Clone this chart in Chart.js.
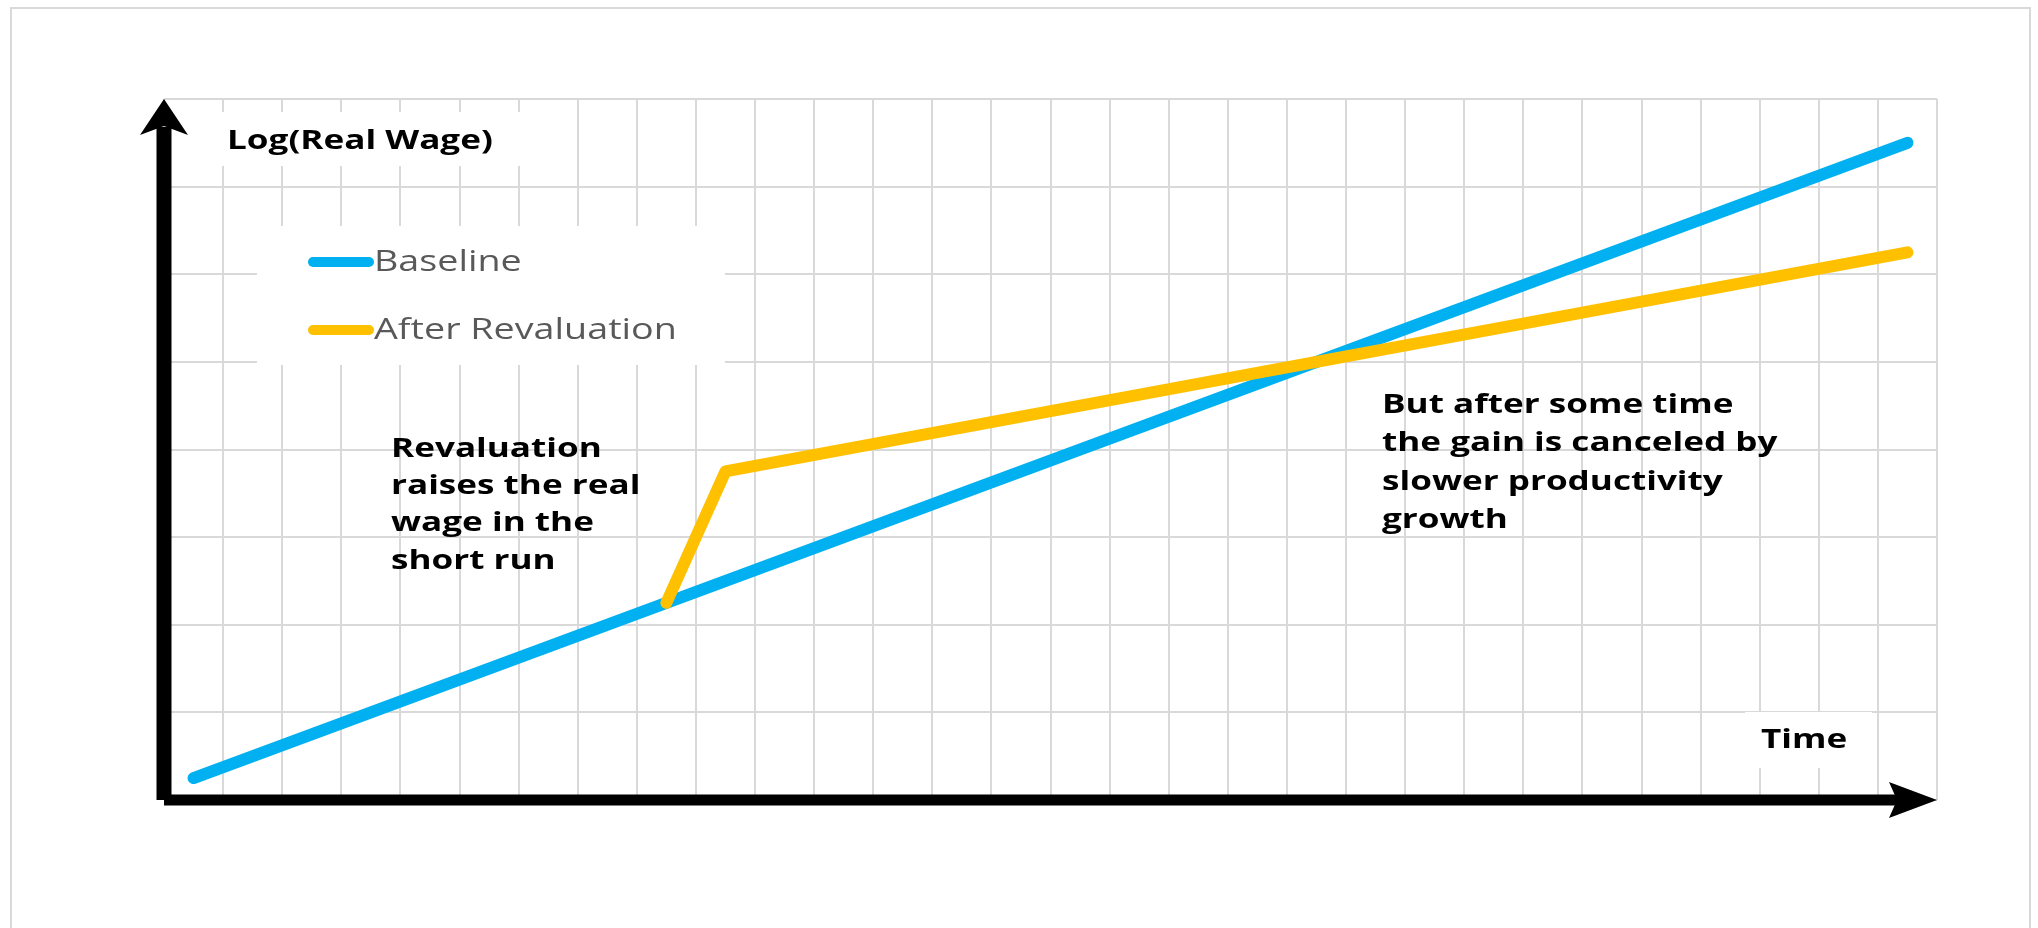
<!DOCTYPE html>
<html lang="en">
<head>
<meta charset="UTF-8">
<title>Log(Real Wage) after Revaluation</title>
<script src="https://cdn.jsdelivr.net/npm/chart.js"></script>
<style>
  html, body { margin: 0; padding: 0; background: #fff; overflow: hidden; }
  .frame {
    position: absolute; left: 10px; top: 7px;
    width: 2021px; height: 1000px;
    border: 2px solid #d9d9d9; box-sizing: border-box;
  }
  .wrap { position: absolute; left: 0; top: 0; width: 2038px; height: 928px; }
</style>
</head>
<body>
<div class="frame"></div>
<div class="wrap"><canvas id="wageChart"></canvas></div>

<script>
// series
const seriesNames = ['Baseline', 'After Revaluation'];
const seriesColors = ['#00B0F0', '#FFC000'];
const baselineTime = [0.5, 29.5];
const baselineWage = [0.25, 7.5];
const revalTime = [8.5, 9.5, 29.5];
const revalWage = [2.25, 3.75, 6.25];

// axes: one grid line per unit
const timeMax = 30;
const wageMax = 8;
const axisTitles = ['Log(Real Wage)', 'Time'];

// notes on the plot
const noteShortRun = ['Revaluation', 'raises the real', 'wage in the', 'short run'];
const noteLongRun = ['But after some time', 'the gain is canceled by', 'slower productivity', 'growth'];

const BOLD = 'bold 27px "Open Sans", sans-serif';
const LEGEND_FONT = '29px "Open Sans", sans-serif';
const TEXT_STRETCH = 1.3;   // the text runs wide, like a stretched Calibri

function toPoints(xs, ys) {
    return xs.map((x, i) => ({ x: x, y: ys[i] }));
}

function wideText(ctx, s, x, y) {
    ctx.save();
    ctx.translate(x, y);
    ctx.scale(TEXT_STRETCH, 1);
    ctx.fillText(s, 0, 0);
    ctx.restore();
}

// white boxes, legend and notes, drawn over the grid but under the lines
const notesPlugin = {
    id: 'notes',
    beforeDatasetsDraw(chart) {
        const ctx = chart.ctx;
        ctx.save();
        ctx.fillStyle = '#fff';
        ctx.fillRect(182, 112, 360, 54);     // y-axis title box
        ctx.fillRect(257, 226, 468, 139);    // legend box
        ctx.fillRect(1745, 712, 127, 56);    // x-axis title box

        ctx.fillStyle = '#000';
        ctx.font = BOLD;
        ctx.textBaseline = 'alphabetic';
        wideText(ctx, axisTitles[0], 227, 149);
        wideText(ctx, axisTitles[1], 1761, 748);

        noteShortRun.forEach((s, i) => wideText(ctx, s, 391, 457 + i * 37.2));
        noteLongRun.forEach((s, i) => wideText(ctx, s, 1382, 413 + i * 38.3));

        // legend
        ctx.font = LEGEND_FONT;
        ctx.textBaseline = 'middle';
        chart.data.datasets.forEach((ds, i) => {
            const y = 262 + i * 68;
            ctx.strokeStyle = ds.borderColor;
            ctx.lineWidth = 10;
            ctx.lineCap = 'round';
            ctx.beginPath();
            ctx.moveTo(313, y);
            ctx.lineTo(369, y);
            ctx.stroke();
            ctx.fillStyle = '#595959';
            wideText(ctx, ds.label, 374, y + 1);
        });
        ctx.restore();
    }
};

// black axes with arrow heads
const axesPlugin = {
    id: 'arrowAxes',
    afterDraw(chart) {
        const ctx = chart.ctx;
        const xs = chart.scales.x, ys = chart.scales.y;
        const x0 = xs.getPixelForValue(0), x1 = xs.getPixelForValue(timeMax);
        const y0 = ys.getPixelForValue(0), y1 = ys.getPixelForValue(wageMax);
        ctx.save();
        ctx.fillStyle = '#000';
        ctx.strokeStyle = '#000';

        // vertical axis
        ctx.lineWidth = 15;
        ctx.beginPath();
        ctx.moveTo(x0, y0);
        ctx.lineTo(x0, y1 + 28);
        ctx.stroke();
        ctx.beginPath();
        ctx.moveTo(x0, y1);
        ctx.lineTo(x0 + 24, y1 + 36);
        ctx.lineTo(x0, y1 + 27);
        ctx.lineTo(x0 - 24, y1 + 36);
        ctx.closePath();
        ctx.fill();

        // horizontal axis
        ctx.lineWidth = 11;
        ctx.beginPath();
        ctx.moveTo(x0, y0);
        ctx.lineTo(x1 - 40, y0);
        ctx.stroke();
        ctx.beginPath();
        ctx.moveTo(x1, y0);
        ctx.lineTo(x1 - 48, y0 - 18);
        ctx.lineTo(x1 - 40, y0);
        ctx.lineTo(x1 - 48, y0 + 18);
        ctx.closePath();
        ctx.fill();
        ctx.restore();
    }
};

const gridStyle = { color: '#d9d9d9', lineWidth: 2, drawTicks: false };

new Chart(document.getElementById('wageChart'), {
    type: 'line',
    data: {
        datasets: [
            {
                label: seriesNames[0],
                data: toPoints(baselineTime, baselineWage),
                borderColor: seriesColors[0],
                order: 1
            },
            {
                label: seriesNames[1],
                data: toPoints(revalTime, revalWage),
                borderColor: seriesColors[1],
                order: 0
            }
        ]
    },
    options: {
        responsive: true,
        maintainAspectRatio: false,
        animation: false,
        layout: { padding: { left: 164, top: 99, right: 101, bottom: 128 } },
        elements: {
            line: { borderWidth: 12, borderCapStyle: 'round', borderJoinStyle: 'round', tension: 0 },
            point: { radius: 0, hoverRadius: 0 }
        },
        scales: {
            x: {
                type: 'linear',
                min: 0, max: timeMax,
                ticks: { display: false, stepSize: 1 },
                grid: gridStyle,
                border: { display: false },
                afterFit(scale) { scale.height = 0; }
            },
            y: {
                type: 'linear',
                min: 0, max: wageMax,
                ticks: { display: false, stepSize: 1 },
                grid: gridStyle,
                border: { display: false },
                afterFit(scale) { scale.width = 0; }
            }
        },
        plugins: {
            legend: { display: false },
            tooltip: { enabled: false }
        }
    },
    plugins: [notesPlugin, axesPlugin]
});
</script>
</body>
</html>
